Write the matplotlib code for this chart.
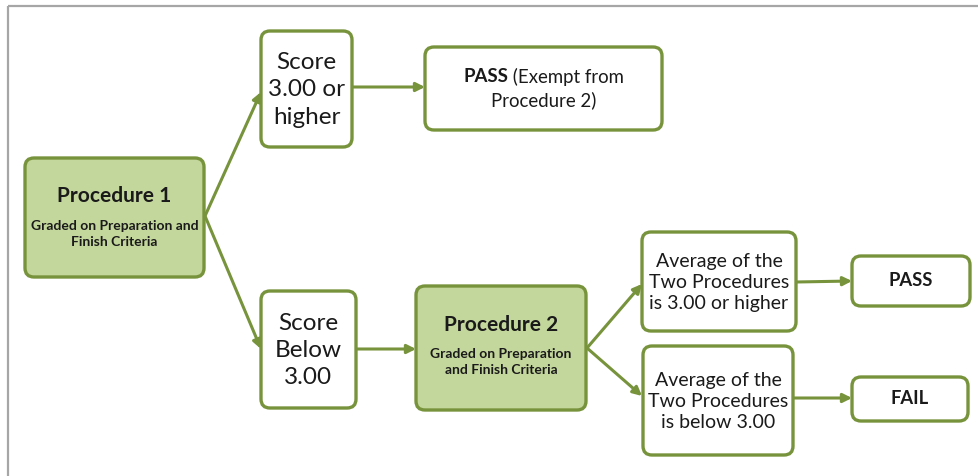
import matplotlib.pyplot as plt
from matplotlib.patches import FancyBboxPatch

plt.rcParams['font.family'] = ['Lato', 'DejaVu Sans']

zielony = '#77933c'
jasny = '#c3d69b'
ramka = '#a6a6a6'
tekst = '#1a1a1a'

# teksty w prostokatach
teksty_score = ['Score\n3.00 or\nhigher', 'Score\nBelow\n3.00']
teksty_srednia = ['Average of the\nTwo Procedures\nis 3.00 or higher',
                  'Average of the\nTwo Procedures\nis below 3.00']
tytuly_proc = ['Procedure 1', 'Procedure 2']
opisy_proc = ['Graded on Preparation and\nFinish Criteria',
              'Graded on Preparation\nand Finish Criteria']
wyniki = ['PASS', 'FAIL']
pass_bold, pass_reszta, pass_linia2 = 'PASS', ' (Exempt from', 'Procedure 2)'

# geometria prostokatow: x0, y0, x1, y1 (piksele, y w dol)
pudla = {
    'p1': (25, 158, 204, 277),
    'sc_hi': (261, 31, 352, 147),
    'exempt': (425, 47, 662, 130),
    'sc_lo': (261, 291, 356, 408),
    'p2': (416, 286, 586, 410),
    'avg_hi': (642, 232, 796, 331),
    'avg_lo': (643, 346, 793, 455),
    'pass': (852, 256, 970, 306),
    'fail': (852, 377, 968, 421),
}

fig = plt.figure(figsize=(9.79, 4.76), dpi=100)
ax = fig.add_axes([0, 0, 1, 1])
ax.set_xlim(0, 979)
ax.set_ylim(476, 0)
ax.axis('off')

# szara ramka
ax.plot([8, 979], [6, 6], color=ramka, lw=1.6, solid_capstyle='butt')
ax.plot([8, 8], [6, 476], color=ramka, lw=1.6, solid_capstyle='butt')


def pudlo(klucz, wypelnienie='white'):
    x0, y0, x1, y1 = pudla[klucz]
    p = FancyBboxPatch((x0, y0), x1 - x0, y1 - y0,
                       boxstyle='round,pad=0,rounding_size=9',
                       fc=wypelnienie, ec=zielony, lw=2.4, zorder=2)
    ax.add_patch(p)
    return (x0 + x1) / 2, (y0 + y1) / 2


def strzalka(start, koniec):
    ax.annotate('', xy=koniec, xytext=start,
                arrowprops=dict(arrowstyle='-|>', color=zielony, lw=2.2,
                                mutation_scale=13, shrinkA=0, shrinkB=0),
                zorder=1)


# procedury
for klucz, tytul, opis, ty, oy in [('p1', tytuly_proc[0], opisy_proc[0], 196, 234),
                                     ('p2', tytuly_proc[1], opisy_proc[1], 325, 362)]:
    cx, cy = pudlo(klucz, jasny)
    ax.text(cx, ty, tytul, ha='center', va='center', fontsize=15,
            fontweight='bold', color=tekst, zorder=3)
    ax.text(cx, oy, opis, ha='center', va='center', fontsize=10,
            fontweight='bold', color=tekst, linespacing=1.3, zorder=3)

for klucz, t in zip(['sc_hi', 'sc_lo'], teksty_score):
    cx, cy = pudlo(klucz)
    ax.text(cx, cy + 1, t, ha='center', va='center', fontsize=17.5,
            linespacing=1.38, color=tekst, zorder=3)

for klucz, t in zip(['avg_hi', 'avg_lo'], teksty_srednia):
    cx, cy = pudlo(klucz)
    ax.text(cx, cy + 1, t, ha='center', va='center', fontsize=14,
            linespacing=1.3, color=tekst, zorder=3)

for klucz, t in zip(['pass', 'fail'], wyniki):
    cx, cy = pudlo(klucz)
    ax.text(cx, cy, t, ha='center', va='center', fontsize=13.2,
            fontweight='bold', color=tekst, zorder=3)

# PASS (Exempt from Procedure 2) - mieszana czcionka
cx, cy = pudlo('exempt')
t1 = ax.text(cx, 77, pass_bold, ha='left', va='center', fontsize=13.4,
             fontweight='bold', color=tekst, zorder=3)
t2 = ax.text(cx, 77, pass_reszta, ha='left', va='center', fontsize=13.4,
             color=tekst, zorder=3)
ax.text(cx, 100, pass_linia2, ha='center', va='center', fontsize=13.4,
        color=tekst, zorder=3)
fig.canvas.draw()
r = fig.canvas.get_renderer()
w1 = t1.get_window_extent(r).width
w2 = t2.get_window_extent(r).width
start = cx - (w1 + w2) / 2
t1.set_x(start)
t2.set_x(start + w1)

# strzalki
strzalka((205, 216), (261, 92))
strzalka((205, 216), (261, 349))
strzalka((352, 87), (425, 87))
strzalka((356, 349), (416, 349))
strzalka((587, 348), (642, 284))
strzalka((587, 348), (642, 396))
strzalka((796, 282), (852, 281))
strzalka((793, 398), (852, 398))

fig.savefig('out.png', dpi=100)
